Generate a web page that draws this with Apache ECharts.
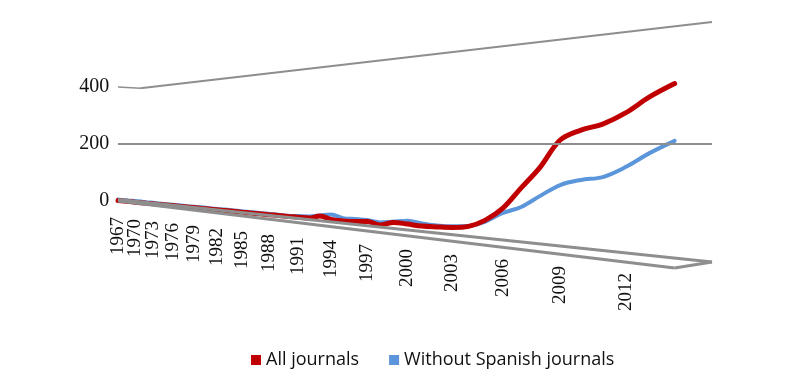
<!DOCTYPE html>
<html>
<head>
    <meta charset="utf-8" />
    <title></title>
    <script src="https://cdn.jsdelivr.net/npm/echarts@6.0.0/dist/echarts.min.js"></script>
    <style>
        * {
            margin: 0;
            padding: 0;
            box-sizing: border-box;
        }

        body {
            background: #fff;
        }

        #chart {
            width: 805px;
            height: 383px;
        }
    </style>
</head>
<body>
    <div id="chart"></div>

    <script>
        // data (screen-apparent values)
        const years = [];
        for (let y = 1967; y <= 2014; y++) years.push(y);

        const allJournals = [
            2, 0, -2, -4, -6, -8, -10, -12, -14, -16,
            -19, -21, -23, -26, -28, -31, -33, -36, -39, -42,
            -45, -48, -51, -54, -57, -60, -53, -65, -70, -72,
            -72, -84, -75, -81, -88, -91, -93, -89, -67, -25,
            46, 119, 214, 249, 270, 309, 365, 412
        ];
        const withoutSpanish = [
            5, 3, 1, 0, -2, -5, -6, -9, -11, -13,
            -15, -18, -20, -22, -25, -28, -30, -33, -36, -39,
            -42, -45, -48, -52, -53, -54, -51, -47, -60, -63,
            -67, -75, -72, -69, -79, -86, -89, -88, -72, -42,
            -21, 18, 56, 74, 84, 119, 168, 211
        ];
        const yearLabels = [1967, 1970, 1973, 1976, 1979, 1982, 1985, 1988, 1991, 1994, 1997, 2000, 2003, 2006, 2009, 2012];
        const valueLabels = [0, 200, 400];

        // the original is a tilted 3D chart: years are spaced in perspective
        const vanish = 2054;
        const persp = yr => 1000 / (vanish - yr);
        const xMin = persp(1966.5);
        const xStart = persp(1967);
        const xMax = persp(2015.4);

        // labels step down along the sloping floor
        const rich = {};
        yearLabels.forEach(yr => {
            const px = 594 * (persp(yr) - xStart) / (xMax - xStart);
            rich['y' + yr] = {
                fontFamily: 'Liberation Serif',
                fontSize: 19,
                lineHeight: 13,
                color: '#111',
                padding: [0, Math.round(0.11 * px), 0, 0]
            };
        });

        const frameStyle = { color: '#8e8e8e', width: 2.5, type: 'solid' };
        const seg = (a, b, w) => [
            { coord: [persp(a[0]), a[1]], lineStyle: { color: '#8e8e8e', width: w } },
            { coord: [persp(b[0]), b[1]] }
        ];

        const chart = echarts.init(document.getElementById('chart'));

        const option = {
            animation: false,
            grid: {
                left: 115.3,
                right: 93,
                top: 1.5,
                bottom: 96.5,
                containLabel: false,
                outerBoundsMode: 'none'
            },
            legend: {
                data: ['All journals', 'Without Spanish journals'],
                left: 246,
                top: 346,
                icon: 'rect',
                itemWidth: 10,
                itemHeight: 10,
                itemGap: 30,
                textStyle: {
                    fontFamily: 'Open Sans',
                    fontSize: 18,
                    color: '#111'
                }
            },
            xAxis: {
                type: 'value',
                min: xMin,
                max: xMax,
                position: 'bottom',
                offset: -85.5,
                axisLine: { show: false, onZero: false },
                axisTick: { show: false },
                splitLine: { show: false },
                axisLabel: {
                    customValues: [xMin].concat(yearLabels.map(persp)),
                    showMinLabel: false,
                    showMaxLabel: true,
                    hideOverlap: false,
                    rotate: 90,
                    margin: 16,
                    fontFamily: 'Liberation Serif',
                    fontSize: 19,
                    lineHeight: 13,
                    color: '#111',
                    formatter: function (v) {
                        const yr = Math.round(vanish - 1000 / v);
                        if (yr < 1967) return '';
                        return '{y' + yr + '|' + yr + '}';
                    },
                    rich: rich
                }
            },
            yAxis: {
                type: 'value',
                min: -300,
                max: 700,
                interval: 100,
                axisLine: { show: false },
                axisTick: { show: false },
                splitLine: { show: false },
                axisLabel: {
                    margin: 6,
                    fontFamily: 'Liberation Serif',
                    fontSize: 20,
                    color: '#111',
                    formatter: v => valueLabels.indexOf(v) >= 0 ? String(v) : ''
                }
            },
            series: [
                {
                    name: 'Without Spanish journals',
                    type: 'line',
                    z: 2,
                    data: years.map((yr, i) => [persp(yr), withoutSpanish[i]]),
                    smooth: 0.35,
                    showSymbol: false,
                    itemStyle: { color: '#5b95da' },
                    lineStyle: { width: 4, color: '#5b95da', cap: 'round' },
                    markLine: {
                        silent: true,
                        symbol: 'none',
                        label: { show: false },
                        lineStyle: frameStyle,
                        data: [
                            [{ coord: [xStart, 200], lineStyle: { color: '#8e8e8e', width: 2 } }, { coord: [xMax, 200] }],
                            seg([1967, 400], [1970.9, 396], 1.5),
                            seg([1970.9, 396], [2015.4, 628], 2),
                            seg([1967, 0], [2014, -235], 3),
                            seg([2014, -235], [2015.4, -214], 3),
                            seg([2015.4, -214], [1967, 5], 3)
                        ]
                    }
                },
                {
                    name: 'All journals',
                    type: 'line',
                    z: 3,
                    data: years.map((yr, i) => [persp(yr), allJournals[i]]),
                    smooth: 0.35,
                    showSymbol: false,
                    itemStyle: { color: '#c00000' },
                    lineStyle: { width: 5, color: '#c00000', cap: 'round' }
                }
            ]
        };

        chart.setOption(option);
    </script>
</body>
</html>
